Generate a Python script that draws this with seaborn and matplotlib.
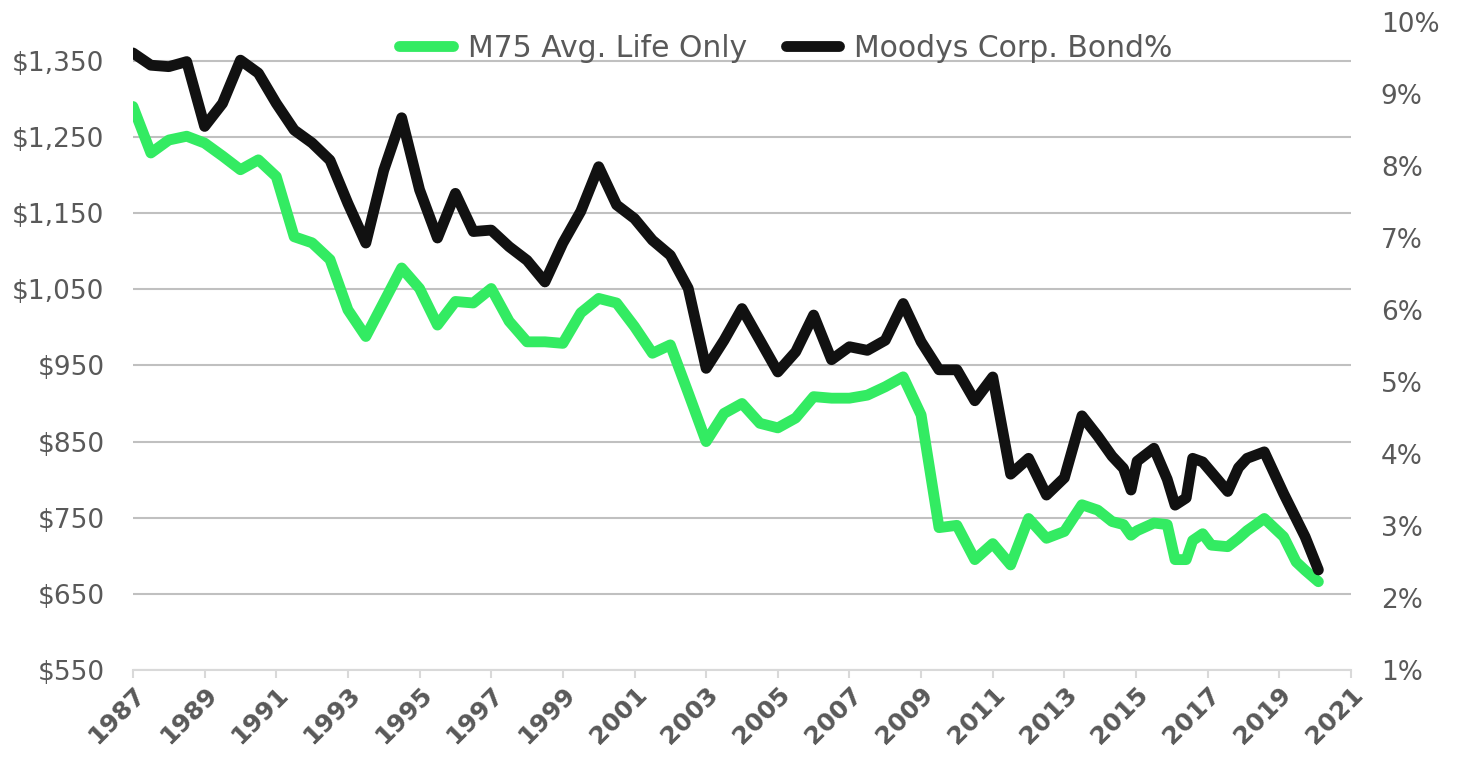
import pandas as pd
import numpy as np
import matplotlib.pyplot as plt
import seaborn as sns
from matplotlib.lines import Line2D
from matplotlib.ticker import FuncFormatter

# values
years = [1987.0, 1987.5, 1988.0, 1988.5, 1989.0, 1989.5, 1990.0, 1990.5, 1991.0, 1991.5,
         1992.0, 1992.5, 1993.0, 1993.5, 1994.0, 1994.5, 1995.0, 1995.5, 1996.0, 1996.5,
         1997.0, 1997.5, 1998.0, 1998.5, 1999.0, 1999.5, 2000.0, 2000.5, 2001.0, 2001.5,
         2002.0, 2002.5, 2003.0, 2003.5, 2004.0, 2004.5, 2005.0, 2005.5, 2006.0, 2006.5,
         2007.0, 2007.5, 2008.0, 2008.5, 2009.0, 2009.5, 2010.0, 2010.5, 2011.0, 2011.5,
         2012.0, 2012.5, 2013.0,
         2013.49, 2013.93, 2014.33, 2014.65, 2014.86, 2015.03, 2015.50, 2015.87, 2016.09,
         2016.40, 2016.58, 2016.86, 2017.10, 2017.56, 2017.86, 2018.10, 2018.58, 2019.12,
         2019.47, 2019.72, 2020.09]

m75_life = [1290, 1229, 1246, 1251, 1242, 1225, 1207, 1220, 1198, 1119,
            1111, 1089, 1023, 988, 1033, 1078, 1051, 1003, 1034, 1032,
            1051, 1008, 981, 981, 979, 1019, 1038, 1032, 1001, 966,
            977, 914, 850, 887, 900, 874, 868, 881, 909, 907,
            907, 911, 922, 935, 885, 737, 740, 695, 716, 688,
            749, 723, 732,
            767, 760, 745, 741, 727, 733, 743, 741, 695,
            695, 720, 729, 714, 712, 723, 733, 749, 725,
            692, 681, 666]

moodys_pct = [9.57, 9.40, 9.38, 9.45, 8.55, 8.87, 9.47, 9.29, 8.87, 8.50,
              8.32, 8.08, 7.48, 6.93, 7.94, 8.67, 7.67, 7.00, 7.62, 7.09,
              7.11, 6.88, 6.69, 6.39, 6.93, 7.37, 7.99, 7.46, 7.27, 6.97,
              6.76, 6.30, 5.19, 5.58, 6.02, 5.58, 5.14, 5.42, 5.93, 5.31,
              5.49, 5.44, 5.58, 6.09, 5.56, 5.17, 5.17, 4.74, 5.07, 3.72,
              3.94, 3.43, 3.67,
              4.53, 4.25, 3.97, 3.80, 3.50, 3.90, 4.08, 3.65, 3.29,
              3.39, 3.94, 3.89, 3.75, 3.48, 3.81, 3.94, 4.03, 3.45,
              3.10, 2.85, 2.39]

left_ticks = [550, 650, 750, 850, 950, 1050, 1150, 1250, 1350]
right_ticks = [1, 2, 3, 4, 5, 6, 7, 8, 9, 10]
year_ticks = list(range(1987, 2022, 2))

df = pd.DataFrame({"Year": years, "M75": m75_life, "Moodys": moodys_pct})

green = "#33EB62"
black = "#111111"
grey_txt = "#595959"

sns.set_style("white")
plt.rcParams['font.family'] = ['DejaVu Sans']

fig = plt.figure(figsize=(14.58, 7.64), dpi=100)
ax = fig.add_axes([0.0912, 0.123, 0.8354, 0.8482])

sns.lineplot(data=df, x="Year", y="M75", ax=ax, color=green, lw=7.8,
             legend=False, solid_capstyle="round", solid_joinstyle="round")
ax2 = ax.twinx()
sns.lineplot(data=df, x="Year", y="Moodys", ax=ax2, color=black, lw=7.8,
             legend=False, solid_capstyle="round", solid_joinstyle="round")

ax.set_xlim(1987, 2021)
ax.set_ylim(550, 1401)
ax2.set_ylim(1, 10)

ax.set_yticks(left_ticks)
ax.yaxis.set_major_formatter(FuncFormatter(lambda v, p: f"${v:,.0f}"))
ax2.set_yticks(right_ticks)
ax2.yaxis.set_major_formatter(FuncFormatter(lambda v, p: f"{v:.0f}%"))

ax.yaxis.grid(True, color="#c0c0c0", lw=1.5)
ax.xaxis.grid(False)
ax.set_axisbelow(True)

for s in ["top", "left", "right"]:
    ax.spines[s].set_visible(False)
for s in ax2.spines.values():
    s.set_visible(False)
ax.spines["bottom"].set_color("#d9d9d9")
ax.spines["bottom"].set_linewidth(1.5)

ax.set_xticks(year_ticks)
ax.set_xticklabels([str(y) for y in year_ticks], rotation=45, ha="right",
                   rotation_mode="anchor", fontweight="bold", fontsize=18,
                   color=grey_txt)
ax.tick_params(axis="x", bottom=True, length=6, width=1.5, color="#d9d9d9", pad=3)
ax.tick_params(axis="y", left=False, labelsize=19, labelcolor=grey_txt, pad=17)
ax2.tick_params(axis="y", right=False, labelsize=19, labelcolor=grey_txt, pad=18)

ax.set_xlabel("")
ax.set_ylabel("")
ax2.set_ylabel("")

handles = [Line2D([], [], color=green, lw=7.8, solid_capstyle="round"),
           Line2D([], [], color=black, lw=7.8, solid_capstyle="round")]
fig.legend(handles, ["M75 Avg. Life Only", "Moodys Corp. Bond%"], loc="center",
           bbox_to_anchor=(0.539, 0.937), ncol=2, frameon=False, fontsize=21.5,
           labelcolor=grey_txt, handlelength=1.8, handletextpad=0.5,
           columnspacing=1.3)

fig.savefig("out.png", dpi=100)
